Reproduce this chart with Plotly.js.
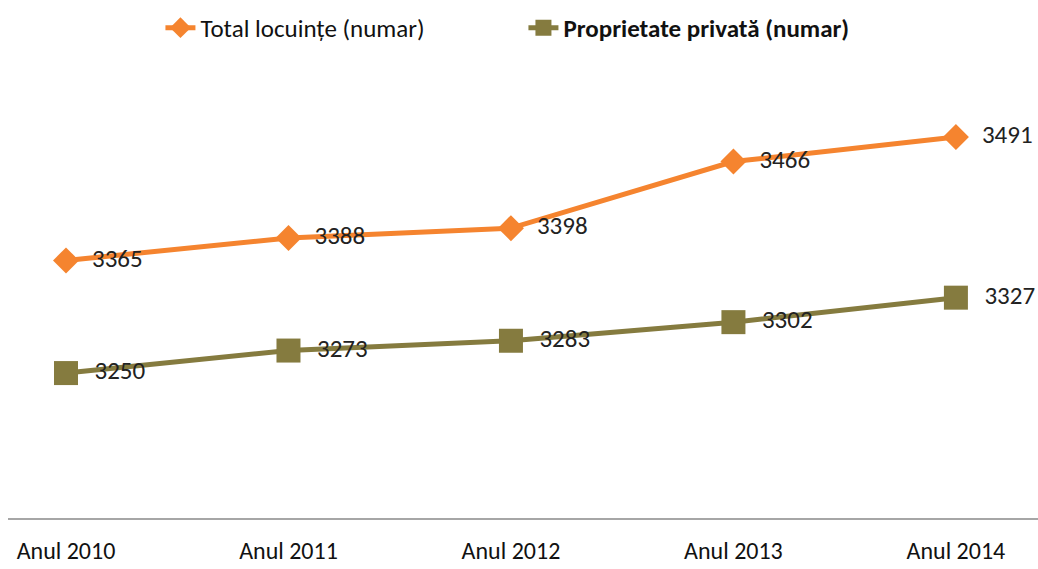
<!DOCTYPE html>
<html><head><meta charset="utf-8">
<script src="https://cdn.plot.ly/plotly-3.0.1.min.js"></script>
<style>html,body{margin:0;padding:0;background:#fff}#chart{width:1038px;height:569px}</style>
</head><body><div id="chart"></div>
<script>
const categories = ["Anul 2010","Anul 2011","Anul 2012","Anul 2013","Anul 2014"];
const totalLocuinte = [3365,3388,3398,3466,3491];
const proprietatePrivata = [3250,3273,3283,3302,3327];
const seriesNames = ["Total locuințe (numar)","Proprietate privată (numar)"];

const FONT = "Carlito, 'Liberation Sans Narrow', 'DejaVu Sans Condensed', sans-serif";
const idx = categories.map((c,i)=>i);
const lbl = v => '\u2002' + v;

const traces = [
  {x: idx, y: totalLocuinte, name: seriesNames[0], type:'scatter', mode:'lines+markers+text',
   line:{color:'#F5842F', width:5}, marker:{symbol:'diamond', size:20, color:'#F5842F'},
   text: totalLocuinte.map(lbl), textposition:'middle right',
   textfont:{family:FONT, size:25, color:'#222'}, cliponaxis:false},
  {x: idx, y: proprietatePrivata, name: '<b>' + seriesNames[1] + '</b>', type:'scatter', mode:'lines+markers+text',
   line:{color:'#857B3F', width:5}, marker:{symbol:'square', size:24, color:'#857B3F'},
   text: proprietatePrivata.map(lbl), textposition:'middle right',
   textfont:{family:FONT, size:25, color:'#222'}, cliponaxis:false}
];

const layout = {
  width:1038, height:569,
  margin:{l:8, r:0, t:60, b:51},
  paper_bgcolor:'#fff', plot_bgcolor:'#fff',
  font:{family:FONT, color:'#111'},
  showlegend:true,
  legend:{orientation:'h', x:0.148, xanchor:'left', y:1.07, yanchor:'middle',
          font:{family:FONT, size:25, color:'#111'}, entrywidth:318, entrywidthmode:'pixels', tracegroupgap:0},
  xaxis:{range:[-0.2607, 4.369], tickvals: idx, ticktext: categories, showgrid:false, zeroline:false,
         showline:true, linecolor:'#a6a6a6', linewidth:2, ticks:'', ticklabelstandoff:10,
         tickfont:{family:FONT, size:24, color:'#111'}, fixedrange:true},
  yaxis:{range:[3102, 3569.7], showgrid:false, zeroline:false, showline:false, showticklabels:false, ticks:'', fixedrange:true}
};
Plotly.newPlot('chart', traces, layout, {displayModeBar:false, staticPlot:true});
</script></body></html>
